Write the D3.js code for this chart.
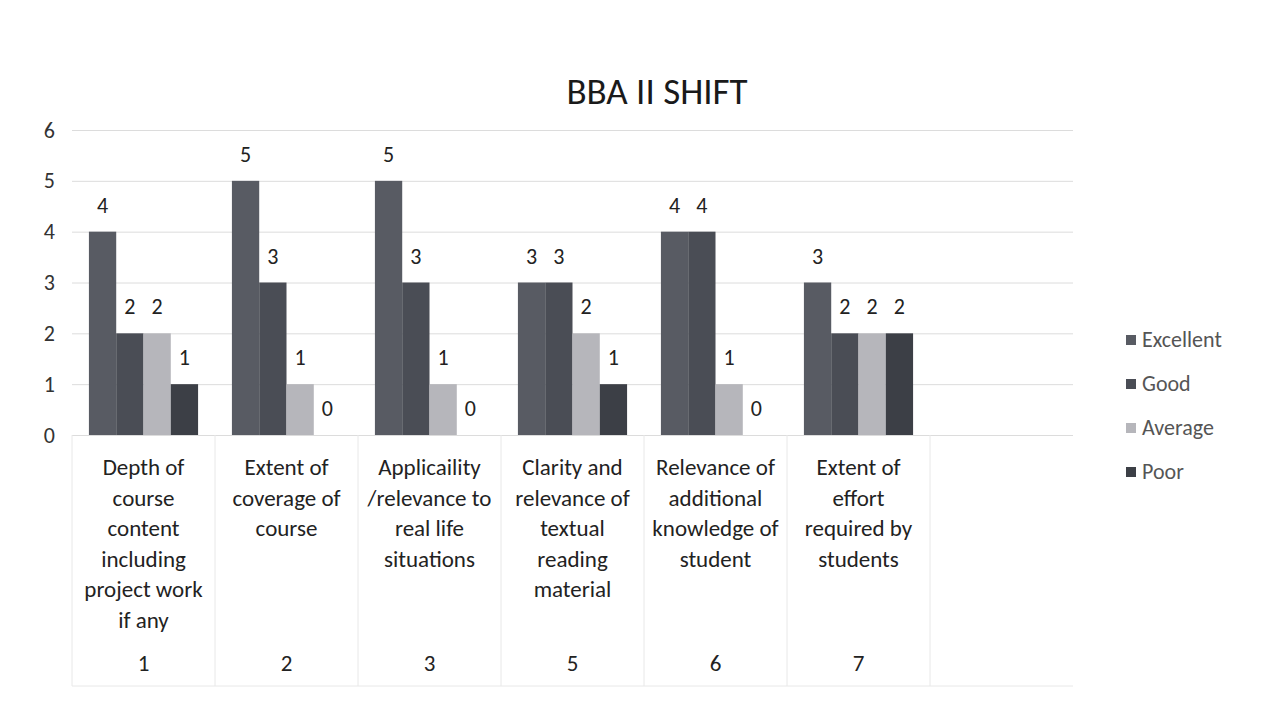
<!DOCTYPE html>
<html>
<head>
<meta charset="utf-8">
<script src="https://cdn.jsdelivr.net/npm/d3@7"></script>
<style>
  body { margin: 0; background: #ffffff; }
  text { font-family: Carlito, Calibri, Lato, "Open Sans", sans-serif; }
</style>
</head>
<body>
<div id="chart"></div>
<script>
// chart data
var title = "BBA II SHIFT";
var catNumbers = ["1", "2", "3", "5", "6", "7"];
var catNames = [
  ["Depth of", "course", "content", "including", "project work", "if any"],
  ["Extent of", "coverage of", "course"],
  ["Applicaility", "/relevance to", "real life", "situations"],
  ["Clarity and", "relevance of", "textual", "reading", "material"],
  ["Relevance of", "additional", "knowledge of", "student"],
  ["Extent of", "effort", "required by", "students"]
];
var seriesNames = ["Excellent", "Good", "Average", "Poor"];
var excellent = [4, 5, 5, 3, 4, 3];
var good = [2, 3, 3, 3, 4, 2];
var average = [2, 1, 1, 2, 1, 2];
var poor = [1, 0, 0, 1, 0, 2];
var yTicks = [0, 1, 2, 3, 4, 5, 6];

var seriesValues = [excellent, good, average, poor];
var colors = ["#585b63", "#4a4d55", "#b6b6bb", "#3c3f46"];

var svgWidth = 1265;
var svgHeight = 708;

var margin = { top: 130, left: 72, right: 192, bottom: 273 };
var width = svgWidth - margin.left - margin.right;
var height = svgHeight - margin.top - margin.bottom;

var svg = d3.select("#chart")
  .append("svg")
  .attr("width", svgWidth)
  .attr("height", svgHeight);

// title
svg.append("text")
  .attr("x", 657)
  .attr("y", 104)
  .attr("text-anchor", "middle")
  .attr("font-size", "37px")
  .attr("fill", "#1a1a1a")
  .text(title);

var chartGroup = svg.append("g")
  .attr("transform", `translate(${margin.left}, ${margin.top})`);

// 7 slots, the last one is left empty like in the sheet
var slots = catNumbers.map((d, i) => i).concat([6]);
var xScale = d3.scaleBand()
  .domain(slots)
  .range([0, width])
  .paddingInner(0)
  .paddingOuter(0);

var xInner = d3.scaleBand()
  .domain(seriesNames)
  .range([0, xScale.bandwidth()])
  .paddingInner(0)
  .paddingOuter(0.62);

var yScale = d3.scaleLinear()
  .domain([0, 6])
  .range([height, 0]);

// gridlines
var yAxis = d3.axisLeft(yScale)
  .tickValues(yTicks)
  .tickSize(-width)
  .tickFormat(d3.format("d"));

var yAxisGroup = chartGroup.append("g").call(yAxis);
yAxisGroup.select(".domain").remove();
yAxisGroup.selectAll(".tick line")
  .attr("stroke", "#dcdcdc")
  .attr("stroke-width", 1);
yAxisGroup.selectAll(".tick text")
  .attr("x", -17)
  .attr("font-size", "22px")
  .attr("fill", "#333")
  .attr("font-family", "Carlito, Calibri, Lato, sans-serif");

// category label cells
var labelBottom = svgHeight - 22;
chartGroup.selectAll(".sep")
  .data(d3.range(0, 7))
  .enter()
  .append("line")
  .attr("x1", d => xScale(d))
  .attr("x2", d => xScale(d))
  .attr("y1", height)
  .attr("y2", labelBottom - margin.top)
  .attr("stroke", "#e8e8e8");

chartGroup.append("line")
  .attr("x1", 0)
  .attr("x2", width)
  .attr("y1", labelBottom - margin.top)
  .attr("y2", labelBottom - margin.top)
  .attr("stroke", "#e8e8e8");

// bars
seriesNames.forEach(function(name, s) {
  var g = chartGroup.append("g");
  g.selectAll("rect")
    .data(seriesValues[s])
    .enter()
    .append("rect")
    .attr("x", (d, i) => xScale(i) + xInner(name))
    .attr("y", d => yScale(d))
    .attr("width", xInner.bandwidth())
    .attr("height", d => height - yScale(d))
    .attr("fill", colors[s]);

  g.selectAll("text")
    .data(seriesValues[s])
    .enter()
    .append("text")
    .attr("x", (d, i) => xScale(i) + xInner(name) + xInner.bandwidth() / 2)
    .attr("y", d => yScale(d) - 19)
    .attr("text-anchor", "middle")
    .attr("font-size", "22px")
    .attr("fill", "#222")
    .text(d => d);
});

// category names (multi level axis)
var nameGroup = chartGroup.selectAll(".catname")
  .data(catNames)
  .enter()
  .append("text")
  .attr("text-anchor", "middle")
  .attr("font-size", "23px")
  .attr("fill", "#222");

nameGroup.selectAll("tspan")
  .data((d, i) => d.map(line => ({ line: line, i: i })))
  .enter()
  .append("tspan")
  .attr("x", d => xScale(d.i) + xScale.bandwidth() / 2)
  .attr("y", (d, j) => height + 40 + j * 30.5)
  .text(d => d.line);

chartGroup.selectAll(".catnum")
  .data(catNumbers)
  .enter()
  .append("text")
  .attr("x", (d, i) => xScale(i) + xScale.bandwidth() / 2)
  .attr("y", height + 236)
  .attr("text-anchor", "middle")
  .attr("font-size", "23px")
  .attr("fill", "#222")
  .text(d => d);

// legend
var legend = svg.append("g")
  .attr("transform", "translate(1126, 340)");

var legendItem = legend.selectAll("g")
  .data(seriesNames)
  .enter()
  .append("g")
  .attr("transform", (d, i) => `translate(0, ${i * 44})`);

legendItem.append("rect")
  .attr("x", 0)
  .attr("y", -5)
  .attr("width", 10)
  .attr("height", 10)
  .attr("fill", (d, i) => colors[i]);

legendItem.append("text")
  .attr("x", 16)
  .attr("y", 7)
  .attr("font-size", "22px")
  .attr("fill", "#555")
  .text(d => d);
</script>
</body>
</html>
